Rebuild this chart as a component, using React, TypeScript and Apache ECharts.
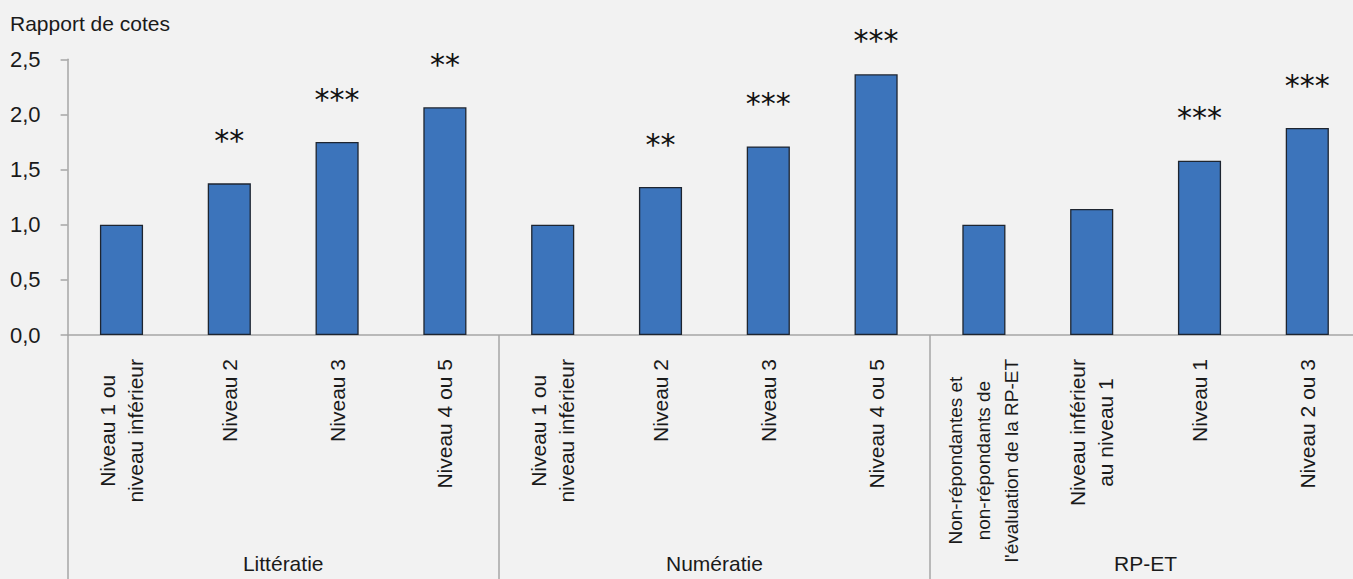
import React, { useEffect, useRef } from 'react';
import * as echarts from 'echarts';

const chartTitle = 'Rapport de cotes';
const categories = [
  'Niveau 1 ou\nniveau inférieur',
  'Niveau 2',
  'Niveau 3',
  'Niveau 4 ou 5',
  'Niveau 1 ou\nniveau inférieur',
  'Niveau 2',
  'Niveau 3',
  'Niveau 4 ou 5',
  "Non-répondantes et\nnon-répondants de\nl'évaluation de la RP-ET",
  'Niveau inférieur\nau niveau 1',
  'Niveau 1',
  'Niveau 2 ou 3',
];
const groups = ['Littératie', 'Numératie', 'RP-ET'];
const oddsRatios = [1.0, 1.375, 1.75, 2.065, 1.0, 1.342, 1.71, 2.364, 1.0, 1.142, 1.58, 1.877];
const significance = ['', '**', '***', '**', '', '**', '***', '***', '', '', '***', '***'];
const yMin = 0;
const yMax = 2.5;
const yInterval = 0.5;

const FONT = "'Liberation Sans', Arial, sans-serif";
const AXIS_COLOR = '#a6a6a6';
const TEXT_COLOR = '#1a1a1a';

export default function App() {
  const ref = useRef<HTMLDivElement>(null);

  useEffect(() => {
    if (!ref.current) return;
    const chart = echarts.init(ref.current, undefined, { renderer: 'svg' });
    const data = oddsRatios.map((v, i) => ({
      value: v,
      label: {
        show: significance[i] !== '',
        formatter: significance[i],
        distance: v > 2.3 ? 19 : 28,
      },
    }));
    chart.setOption({
      animation: false,
      backgroundColor: '#f2f2f2',
      title: {
        text: chartTitle,
        left: 10,
        top: 13,
        padding: 0,
        textStyle: { fontFamily: FONT, fontSize: 21, fontWeight: 'normal', color: TEXT_COLOR },
      },
      grid: {
        left: 67.6,
        top: 59.3,
        width: 1293.6,
        height: 275.7,
        containLabel: false,
        outerBoundsMode: 'none',
      },
      xAxis: [
        {
          type: 'category',
          data: categories,
          position: 'bottom',
          axisLine: { show: true, lineStyle: { color: AXIS_COLOR, width: 1.5 } },
          axisTick: { show: false },
          axisLabel: {
            interval: 0,
            rotate: 90,
            margin: 24,
            formatter: (s: string) => {
              const lines = s.split('\n');
              const key = lines.length > 2 ? 's' : 'c';
              return lines.map((l) => `{${key}|${l}}`).join('\n');
            },
            rich: {
              c: { align: 'center', fontFamily: FONT, fontSize: 21, lineHeight: 28, color: TEXT_COLOR },
              s: { align: 'center', fontFamily: FONT, fontSize: 19, lineHeight: 28, color: TEXT_COLOR },
            },
          },
        },
        {
          type: 'category',
          data: groups,
          position: 'bottom',
          offset: 244,
          axisLine: { show: false },
          axisTick: {
            show: true,
            inside: true,
            length: 244,
            interval: 0,
            lineStyle: { color: AXIS_COLOR, width: 1.5 },
          },
          axisLabel: {
            inside: true,
            margin: 5,
            interval: 0,
            fontFamily: FONT,
            fontSize: 21,
            color: TEXT_COLOR,
          },
        },
      ],
      yAxis: {
        type: 'value',
        min: yMin,
        max: yMax,
        interval: yInterval,
        axisLine: { show: true, lineStyle: { color: AXIS_COLOR, width: 1.5 } },
        axisTick: { show: true, length: 7, lineStyle: { color: AXIS_COLOR, width: 1.5 } },
        splitLine: { show: false },
        axisLabel: {
          margin: 27,
          fontFamily: FONT,
          fontSize: 22,
          color: TEXT_COLOR,
          formatter: (v: number) => v.toFixed(1).replace('.', ','),
        },
      },
      series: [
        {
          type: 'bar',
          xAxisIndex: 0,
          data,
          barWidth: '40%',
          itemStyle: { color: '#3c74bb', borderColor: '#1e2530', borderWidth: 1.3 },
          label: {
            position: 'top',
            fontFamily: "'DejaVu Sans', sans-serif",
            fontSize: 30,
            color: '#111111',
          },
        },
      ],
    });
    return () => chart.dispose();
  }, []);

  return (
    <div
      ref={ref}
      style={{ position: 'fixed', left: 0, top: 0, width: 1353, height: 579 }}
    />
  );
}
